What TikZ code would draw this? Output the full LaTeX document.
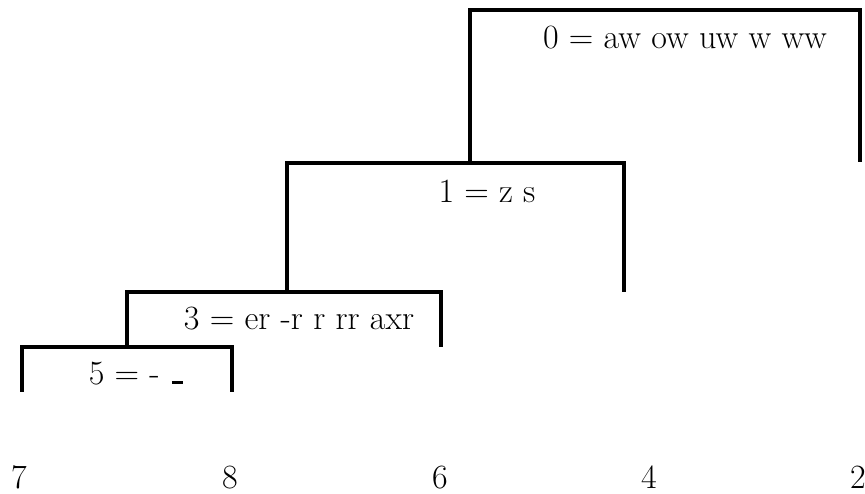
\documentclass[tikz,border=0pt]{standalone}
\begin{document}
\begin{tikzpicture}[x=1pt,y=-1pt,
  link/.style={line width=4.3pt,line cap=rect},
  lab/.style={inner sep=0pt,anchor=base,font=\fontsize{34}{41}\selectfont}]
\useasboundingbox (0,0) rectangle (865,493);
% leaves
\node[lab] (l7) at (19,488) {7};
\node[lab] (l8) at (230,488) {8};
\node[lab] (l6) at (440,488) {6};
\node[lab] (l4) at (649,488) {4};
\node[lab] (l2) at (858,488) {2};
% cluster labels
\node[lab] (c0) at (685,48) {0 = aw ow uw w ww};
\node[lab] (c1) at (487,202) {1 = z s};
\node[lab] (c3) at (299,329) {3 = er -r r rr axr};
\node[lab] (c5) at (136,384) {5 = - \kern.06em\rule{0.33em}{3pt}};
% tree coordinates
\coordinate (a5l) at (22,390);
\coordinate (a5r) at (232,390);
\coordinate (a3r) at (441,345);
\coordinate (a1r) at (624,290);
\coordinate (a0r) at (860,160);
% node 5
\draw[link] (a5l) |- (127,347) -| (a5r);
% node 3
\draw[link] (127,347) |- (287,292) -| (a3r);
% node 1
\draw[link] (287,292) |- (470,163) -| (a1r);
% node 0
\draw[link] (470,163) |- (665,10) -| (a0r);
\end{tikzpicture}
\end{document}
